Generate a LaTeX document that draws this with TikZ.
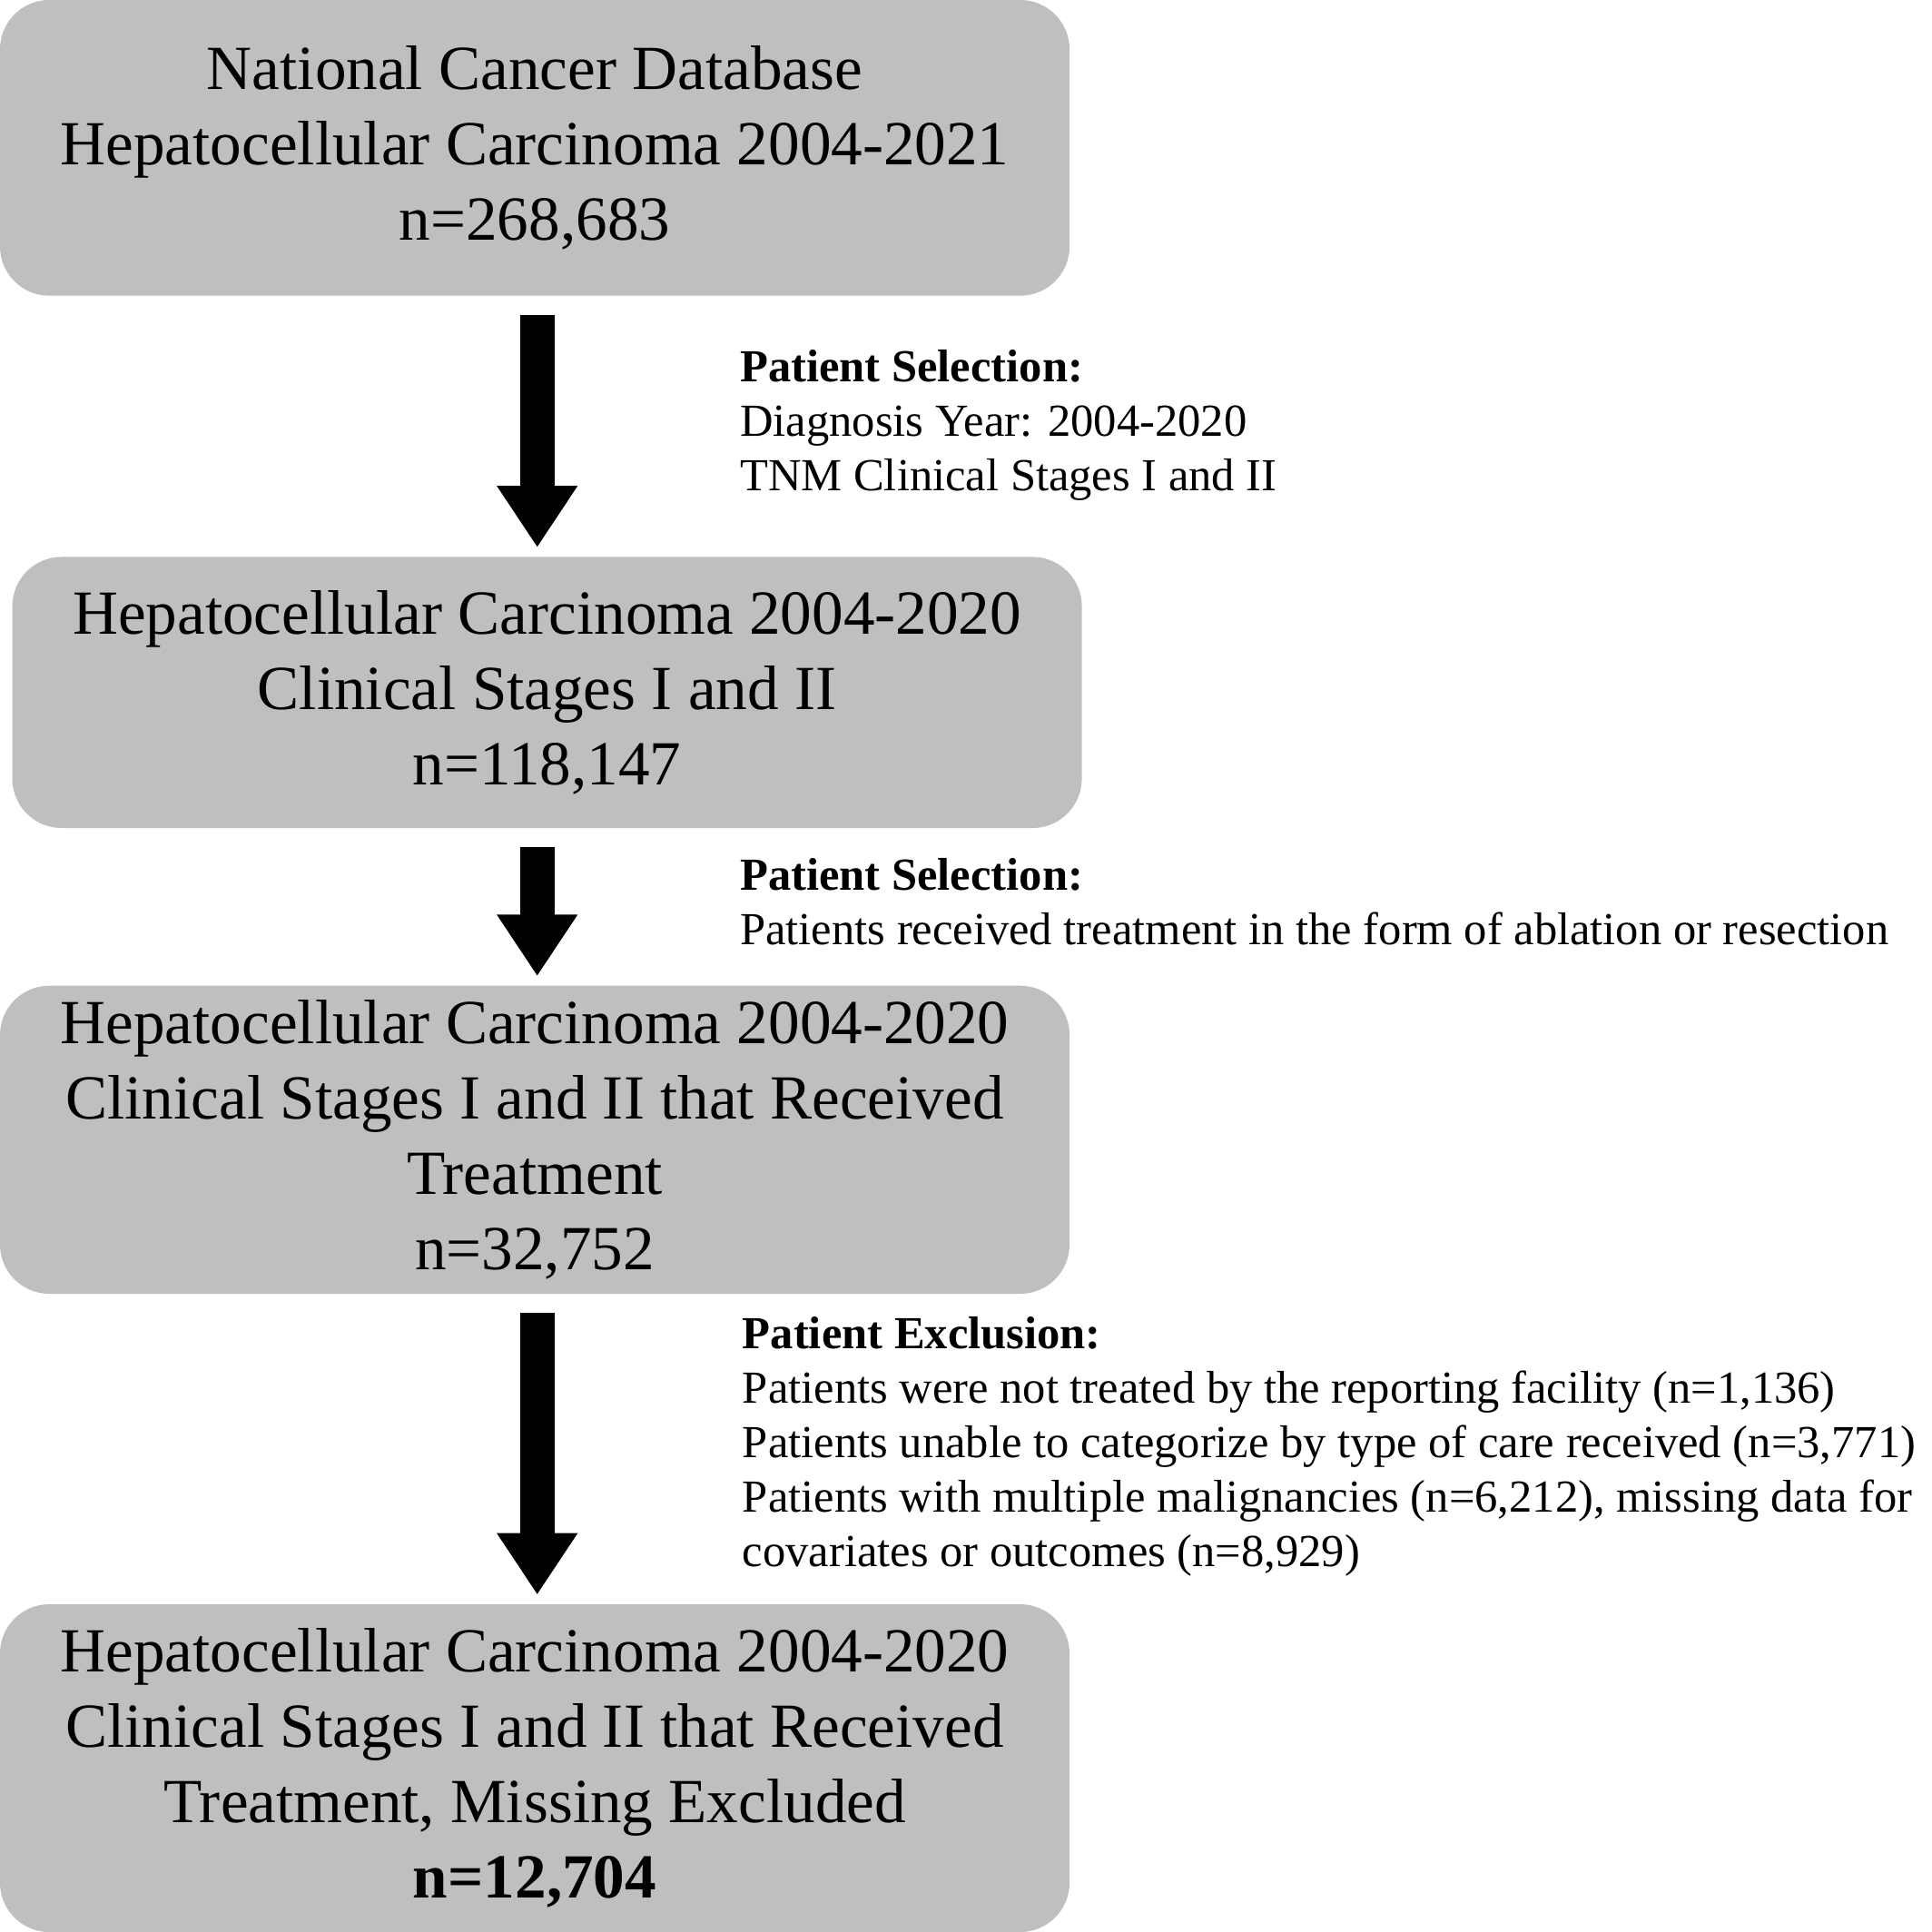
\documentclass[tikz,border=0pt]{standalone}
\usepackage{fontspec}
\setmainfont{Liberation Serif}
\usetikzlibrary{arrows.meta}
\tikzset{
	stagebox/.style={rectangle, rounded corners=0.4cm, fill=black!25, minimum width=8.68cm, align=center, inner sep=0pt, font=\fontsize{14.5}{17.4}\selectfont},
	note/.style={anchor=north west, align=left, inner sep=0pt, font=\fontsize{10.6}{12.6}\selectfont},
	flow/.style={line width=0.28cm, -{Triangle[width=0.62cm,length=0.5cm]}, shorten >=0.07cm, shorten <=0.15cm}
}
\begin{document}
\begin{tikzpicture}
	\useasboundingbox (0,0) rectangle (15.68,-15.68);
	\node[stagebox, minimum height=2.4cm] (ncdb) at (4.34,-1.2) {National Cancer Database\\Hepatocellular Carcinoma 2004-2021\\n=268,683};
	\node[stagebox, minimum height=2.2cm] (stages) at (4.44,-5.62) {Hepatocellular Carcinoma 2004-2020\\Clinical Stages I and II\\n=118,147};
	\node[stagebox, minimum height=2.5cm] (treated) at (4.34,-9.25) {Hepatocellular Carcinoma 2004-2020\\Clinical Stages I and II that Received\\Treatment\\n=32,752};
	\node[stagebox, minimum height=2.66cm] (final) at (4.34,-14.35) {Hepatocellular Carcinoma 2004-2020\\Clinical Stages I and II that Received\\Treatment, Missing Excluded\\\textbf{n=12,704}};
	
	\draw[flow] (ncdb.south -| 4.36,0) -- (stages.north -| 4.36,0);
	\draw[flow] (stages.south -| 4.36,0) -- (treated.north -| 4.36,0);
	\draw[flow] (treated.south -| 4.36,0) -- (final.north -| 4.36,0);
	
	\node[note] (sel1) at (6.0,-2.83) {\textbf{Patient Selection:}\\Diagnosis Year: 2004-2020\\TNM Clinical Stages I and II};
	\node[note] (sel2) at (6.0,-6.96) {\textbf{Patient Selection:}\\Patients received treatment in the form of ablation or resection};
	\node[note] (excl) at (6.02,-10.68) {\textbf{Patient Exclusion:}\\Patients were not treated by the reporting facility (n=1,136)\\Patients unable to categorize by type of care received (n=3,771)\\Patients with multiple malignancies (n=6,212), missing data for\\covariates or outcomes (n=8,929)};
\end{tikzpicture}
\end{document}
